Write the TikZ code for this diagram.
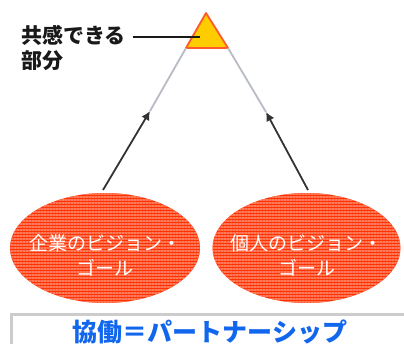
\documentclass[tikz,border=0pt]{standalone}
\usepackage{fontspec}
\newfontfamily\jp{Noto Sans CJK JP}
\usetikzlibrary{arrows.meta,shapes.geometric,patterns.meta}
\definecolor{triFill}{HTML}{FFCC00}
\definecolor{triLine}{HTML}{FF5A2A}
\definecolor{ovalDark}{HTML}{FF3300}
\definecolor{ovalLight}{HTML}{FF7A5A}
\definecolor{upLine}{HTML}{B8BCC4}
\definecolor{dnLine}{HTML}{333333}
\definecolor{boxLine}{HTML}{CCCCCC}
\definecolor{titleBlue}{HTML}{1166EE}
\tikzset{
  oval/.style={ellipse, fill=ovalDark, draw=none, minimum height=110pt, inner sep=0pt,
    postaction={pattern={Lines[angle=0,distance=3pt,line width=1.3pt]}, pattern color=ovalLight}},
  ovaltext/.style={text=white, font=\jp\fontsize{19}{25}\selectfont, align=center, inner sep=0pt},
  lower/.style={draw=dnLine, line width=1.8pt, -{Latex[length=9pt,width=9pt]}},
  upper/.style={draw=upLine, line width=1.8pt},
  lbl/.style={font=\jp\bfseries\fontsize{21}{25}\selectfont, text=black!90, align=left, inner sep=0pt, anchor=north west}
}
\begin{document}
\begin{tikzpicture}[x=1pt,y=-1pt]
\clip (0,0) rectangle (404,344);
\fill[white] (0,0) rectangle (404,344);
% triangle
\coordinate (apex) at (206,13);
\coordinate (bl) at (186,48);
\coordinate (br) at (228,48);
\filldraw[fill=triFill, draw=triLine, line width=1.8pt, line join=round] (apex) -- (bl) -- (br) -- cycle;
\coordinate (tc) at (200,37);
% label
\node[lbl] (lab) at (21,25) {共感できる\\部分};
\coordinate (labend) at (133,37);
\draw[line width=1.8pt, black!90] (labend) -- (tc);
% ovals
\node[oval, minimum width=190pt] (left) at (105,248) {};
\node[oval, minimum width=188pt] (right) at (306.5,248) {};
\node[ovaltext] (lefttext) at (105,255) {企業のビジョン・\\ゴール};
\node[ovaltext] (righttext) at (306.5,255) {個人のビジョン・\\ゴール};
% connectors
\coordinate (lbot) at (103,190);
\coordinate (lmid) at (150,111);
\coordinate (rbot) at (308,190);
\coordinate (rmid) at (266,112);
\draw[upper] (lmid) -- (bl);
\draw[upper] (rmid) -- (br);
\draw[lower] (lbot) -- (lmid);
\draw[lower] (rbot) -- (rmid);
% bottom box
\draw[boxLine, line width=3pt] (11.5,314.5) rectangle (430,370);
\node[font=\jp\bfseries\fontsize{25}{28}\selectfont, text=titleBlue, inner sep=0pt] (title) at (210,332) {協働＝パートナーシップ};
\end{tikzpicture}
\end{document}
